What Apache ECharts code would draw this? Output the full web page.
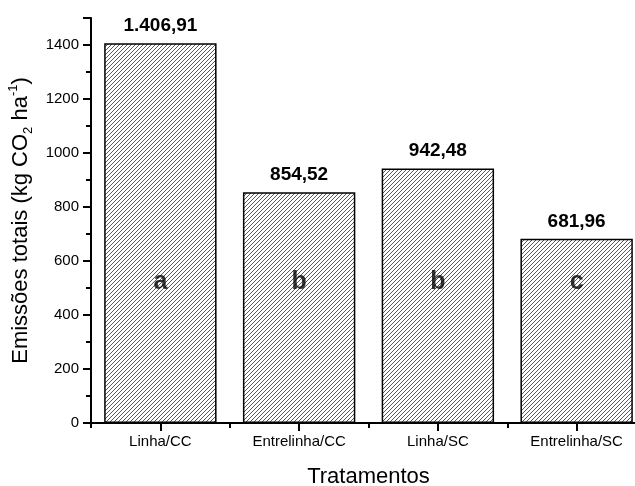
<!DOCTYPE html>
<html>
<head>
<meta charset="utf-8">
<script src="https://cdn.jsdelivr.net/npm/echarts@6/dist/echarts.min.js"></script>
<style>
  html, body { margin: 0; padding: 0; background: #fff; }
  #chart { width: 635px; height: 486px; }
</style>
</head>
<body>
<div id="chart"></div>
<script>
// dados do gráfico
var categories = ['Linha/CC', 'Entrelinha/CC', 'Linha/SC', 'Entrelinha/SC'];
var values = [1406.91, 854.52, 942.48, 681.96];
var valueLabels = ['1.406,91', '854,52', '942,48', '681,96'];
var letters = ['a', 'b', 'b', 'c'];
var letterLevel = [520, 520, 520, 520];

// padrão hachurado (linhas diagonais)
function makeHatch() {
  var c = document.createElement('canvas');
  c.width = 4; c.height = 4;
  var ctx = c.getContext('2d');
  ctx.fillStyle = '#fff';
  ctx.fillRect(0, 0, 4, 4);
  ctx.fillStyle = '#5a5a5a';
  for (var i = 0; i < 4; i++) {
    ctx.fillRect(i, 3 - i, 1, 1);
  }
  return c;
}

var ec = echarts.init(document.getElementById('chart'));
var font = 'Liberation Sans, Arial, sans-serif';

var option = {
  animation: false,
  grid: { left: 91, right: -11, top: 18, bottom: 63, outerBoundsMode: 'none', containLabel: false },
  xAxis: [
    {
      type: 'category',
      data: categories,
      name: 'Tratamentos',
      nameLocation: 'middle',
      nameGap: 43,
      nameTextStyle: { fontFamily: font, fontSize: 22, color: '#000' },
      axisLine: { lineStyle: { color: '#000', width: 2 } },
      axisTick: { show: true, alignWithLabel: true, length: 8, lineStyle: { color: '#000', width: 2 } },
      axisLabel: { fontFamily: font, fontSize: 15, color: '#000', margin: 11 }
    },
    {
      // só para os tiques menores entre categorias
      type: 'category',
      data: categories,
      position: 'bottom',
      axisLine: { show: false },
      axisTick: { show: true, alignWithLabel: false, length: 5, lineStyle: { color: '#000', width: 2 } },
      axisLabel: { show: false }
    }
  ],
  yAxis: {
    type: 'value',
    min: 0,
    max: 1500,
    interval: 200,
    name: '{t|Emissões totais (kg CO}{sub|2}{t| ha}{sup|-1}{t|)}',
    nameLocation: 'middle',
    nameGap: 50,
    nameRotate: 90,
    nameTextStyle: {
      rich: {
        t: { fontFamily: font, fontSize: 22, color: '#000', lineHeight: 28 },
        sub: { fontFamily: font, fontSize: 13, color: '#000', lineHeight: 28, verticalAlign: 'bottom' },
        sup: { fontFamily: font, fontSize: 13, color: '#000', lineHeight: 28, verticalAlign: 'top' }
      }
    },
    axisLine: { show: true, lineStyle: { color: '#000', width: 2 } },
    axisTick: { show: true, inside: false, length: 8, lineStyle: { color: '#000', width: 2 } },
    minorTick: { show: true, splitNumber: 2, length: 5, lineStyle: { color: '#000', width: 2 } },
    splitLine: { show: false },
    axisLabel: {
      fontFamily: font, fontSize: 15, color: '#000', margin: 12,
      showMaxLabel: false,
      formatter: function (v) { return String(v); }
    }
  },
  series: [
    {
      type: 'bar',
      data: values,
      barCategoryGap: '19%',
      itemStyle: {
        color: { image: makeHatch(), repeat: 'repeat' },
        borderColor: '#000',
        borderWidth: 1.5
      },
      label: {
        show: true,
        position: 'top',
        distance: 8,
        fontFamily: font,
        fontSize: 19,
        fontWeight: 'bold',
        color: '#000',
        formatter: function (p) { return valueLabels[p.dataIndex]; }
      }
    },
    {
      type: 'scatter',
      data: letterLevel,
      symbolSize: 0,
      silent: true,
      z: 5,
      label: {
        show: true,
        position: 'inside',
        fontFamily: font,
        fontSize: 25,
        fontWeight: 'bold',
        color: '#000',
        formatter: function (p) { return letters[p.dataIndex]; }
      }
    }
  ]
};

ec.setOption(option);
</script>
</body>
</html>
